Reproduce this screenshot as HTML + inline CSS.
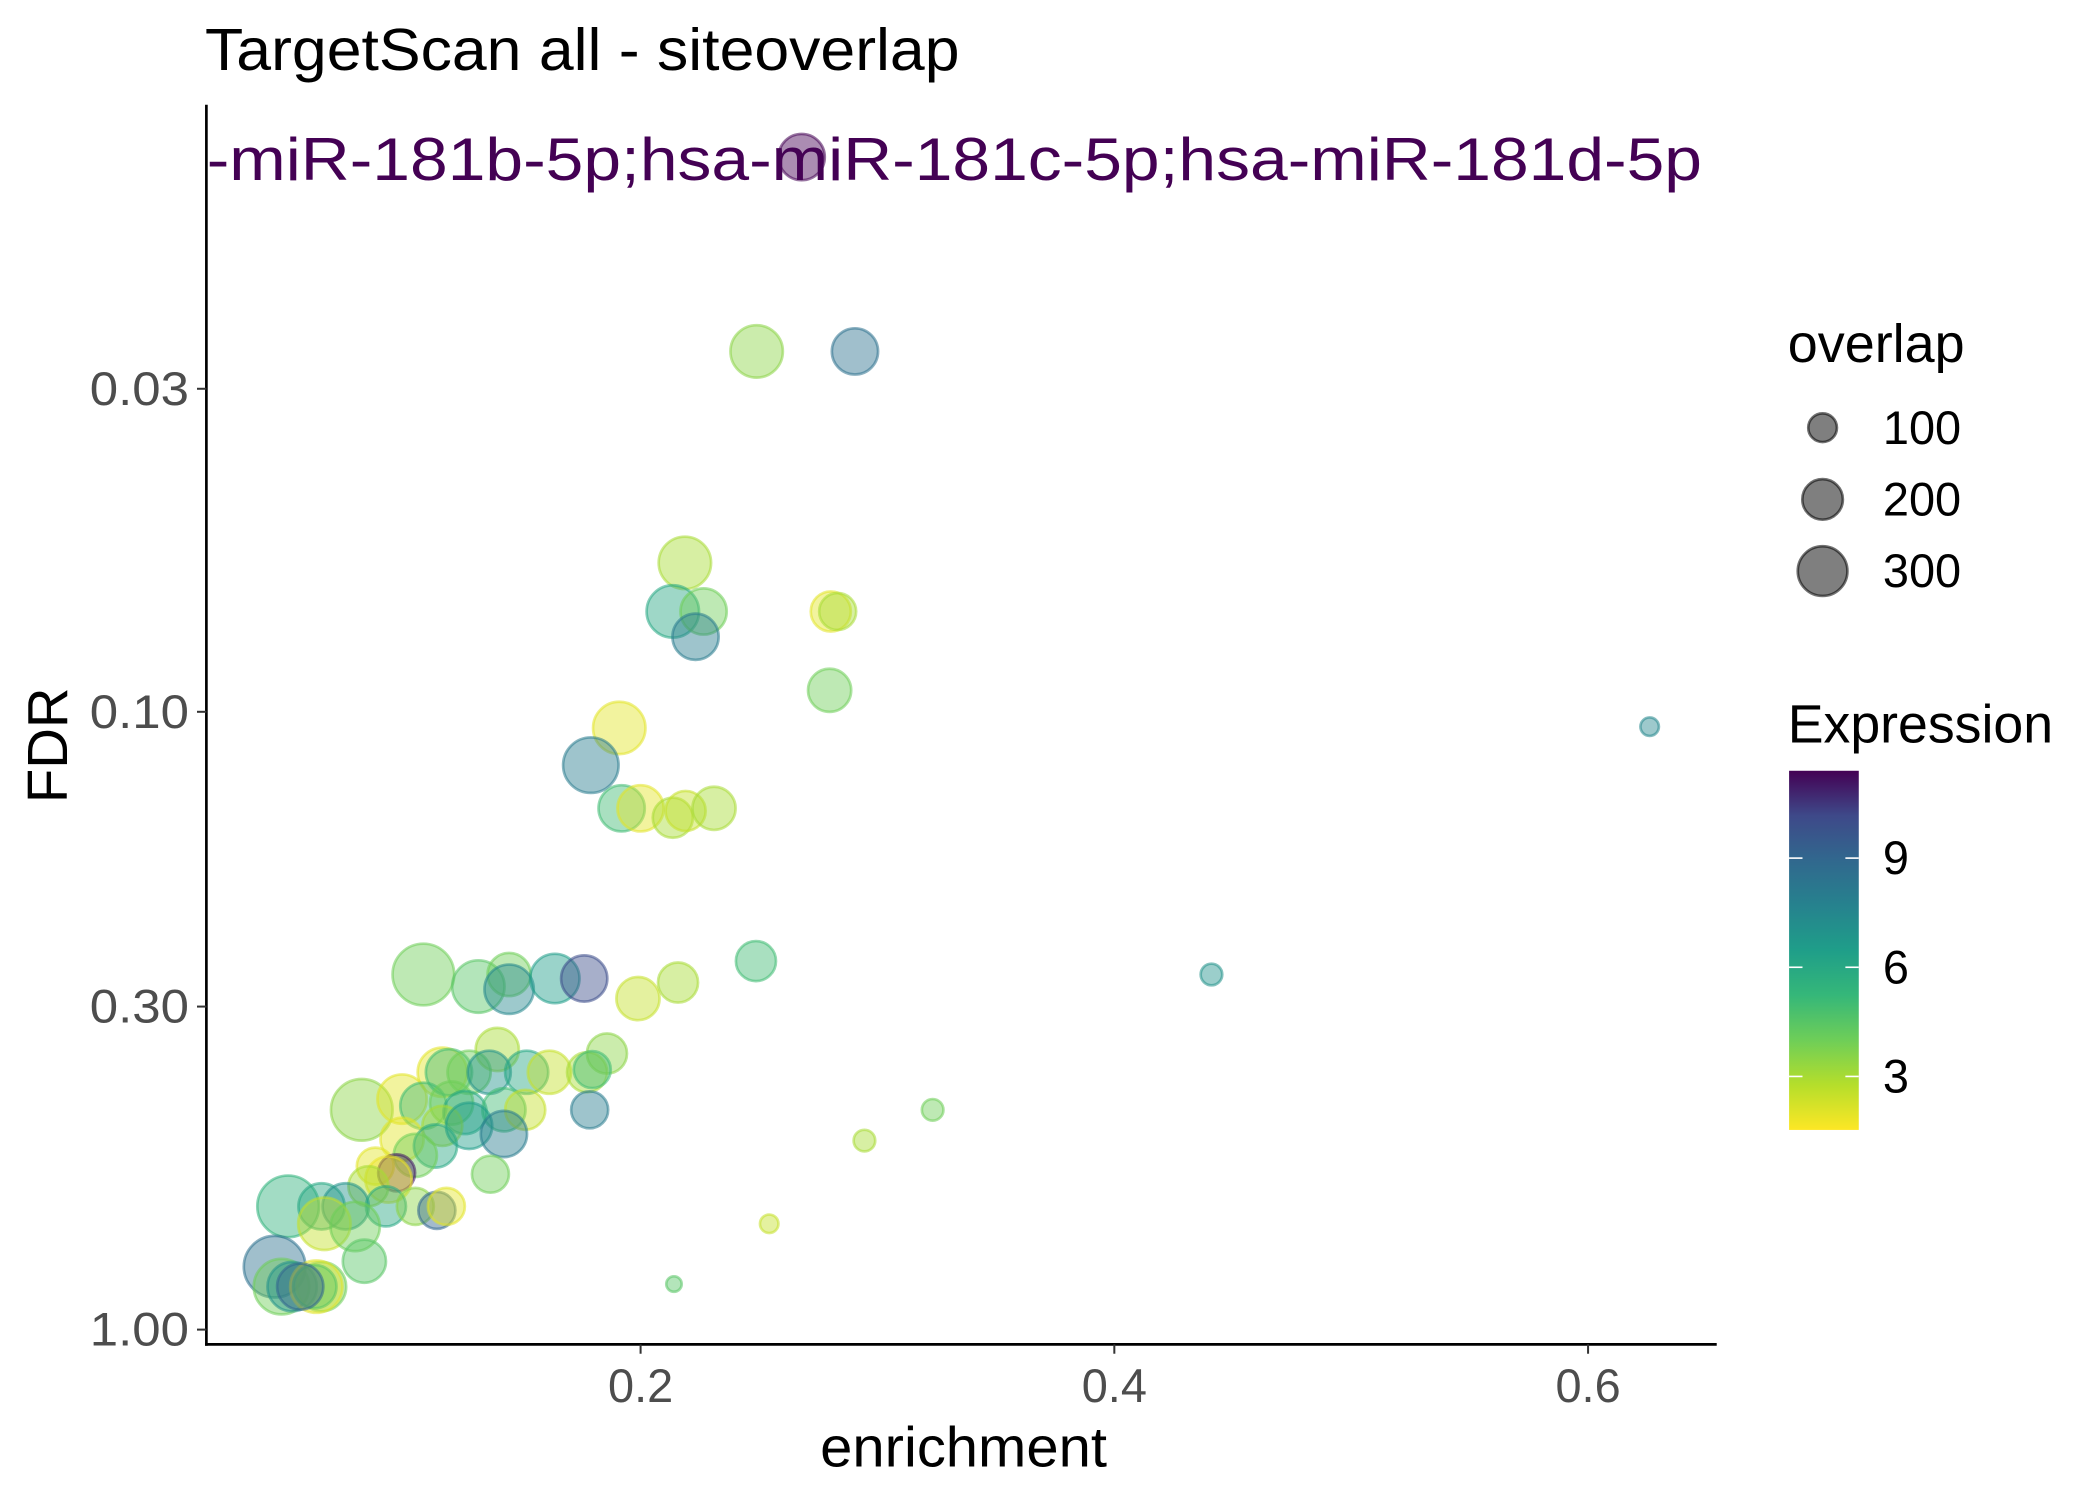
<!DOCTYPE html>
<html><head><meta charset="utf-8"><style>
html,body{margin:0;padding:0;background:#fff;}
svg{display:block;font-family:"Liberation Sans",Arial,sans-serif;}
</style></head><body>
<svg id="chart" width="2100" height="1500" viewBox="0 0 1567 1119" xmlns="http://www.w3.org/2000/svg">
<defs>
<clipPath id="plotclip"><rect x="155" y="78" width="1126" height="924"/></clipPath>
<linearGradient id="viridis" x1="0" y1="1" x2="0" y2="0">
<stop offset="0" stop-color="#fde725"/><stop offset="0.125" stop-color="#b5de2b"/>
<stop offset="0.25" stop-color="#6ece58"/><stop offset="0.375" stop-color="#35b779"/>
<stop offset="0.5" stop-color="#1f9e89"/><stop offset="0.625" stop-color="#26828e"/>
<stop offset="0.75" stop-color="#31688e"/><stop offset="0.875" stop-color="#3e4989"/>
<stop offset="1" stop-color="#440154"/>
</linearGradient>
</defs>
<text x="153" y="52" font-size="44" fill="#000" textLength="563" lengthAdjust="spacingAndGlyphs">TargetScan all - siteoverlap</text>
<g id="points" clip-path="url(#plotclip)"></g>
<g id="axes"></g>
<text x="719" y="1094" font-size="42" text-anchor="middle" textLength="214" lengthAdjust="spacingAndGlyphs">enrichment</text>
<text transform="translate(50,556) rotate(-90)" font-size="42" text-anchor="middle">FDR</text>
<g>
<text x="1334" y="270" font-size="40" textLength="132" lengthAdjust="spacingAndGlyphs">overlap</text>
<g id="sizekeys"></g>
</g>
<g>
<text x="1334" y="554" font-size="40" textLength="198" lengthAdjust="spacingAndGlyphs">Expression</text>
<rect x="1335" y="575" width="52" height="268" fill="url(#viridis)"/>
<g id="cbticks"></g>
</g>
</svg>
<script>
const enrichment=[0.268,0.249,0.2905,0.2187,0.2136,0.2266,0.2232,0.2803,0.2832,0.2798,0.626,0.191,0.179,0.192,0.2,0.2136,0.219,0.231,0.2487,0.441,0.1083,0.1315,0.1445,0.1445,0.1638,0.1762,0.2158,0.1989,0.1395,0.1858,0.1163,0.1191,0.1276,0.1361,0.1519,0.1615,0.1774,0.1796,0.0823,0.0993,0.1083,0.1202,0.1259,0.1423,0.1513,0.1785,0.0993,0.1163,0.1276,0.1423,0.1134,0.1049,0.1366,0.088,0.097,0.0936,0.0851,0.0512,0.0653,0.0755,0.0925,0.1049,0.114,0.118,0.0665,0.0795,0.0834,0.0455,0.0484,0.0529,0.0653,0.0631,0.0625,0.3233,0.2945,0.2543,0.2141,0.0563];
const fdr=[0.01265,0.0261,0.0261,0.0574,0.0688,0.0688,0.0756,0.0688,0.0688,0.0923,0.1057,0.1062,0.122,0.1433,0.1433,0.1484,0.1447,0.1433,0.2532,0.2662,0.2662,0.2784,0.2662,0.2812,0.2702,0.2702,0.2743,0.2912,0.352,0.3573,0.3832,0.3832,0.3832,0.3832,0.3832,0.3832,0.3832,0.3794,0.4408,0.4235,0.4342,0.4299,0.4452,0.4408,0.4408,0.4408,0.492,0.468,0.468,0.4824,0.5045,0.5224,0.5603,0.5437,0.5576,0.5715,0.586,0.6317,0.6317,0.6317,0.6317,0.6317,0.6412,0.6317,0.6741,0.6808,0.775,0.791,0.852,0.852,0.852,0.852,0.852,0.4408,0.4944,0.6741,0.8438,0.852];
const overlap=[225,289,225,289,289,225,225,169,144,196,36,289,324,225,225,169,169,196,169,49,400,289,196,256,256,225,169,196,196,169,256,225,196,196,196,196,169,144,400,256,225,196,196,196,169,144,196,169,225,225,196,196,144,144,144,225,169,400,225,225,169,144,144,144,289,256,196,400,324,256,256,289,196,49,49,36,25,225];
const expression=[11.5,3.5,8.5,3,6,4,8,2,3,4,7.5,2,8,5,2,3,2.5,3,5,7,4,4.5,4,7.5,6.5,10,3,2.5,3,3.5,2,5,4,7,6,2.5,3,5,3.5,2,5,4,6,5,2.5,8,2,3,6.5,8,6,4,4,2,11,1.8,3,5.5,6,7,6,3.5,9,2,2.5,4,4.5,8.5,4,7,4,2,4.5,4,3,2.5,4.5,9];
const xTicks=[0.2,0.4,0.6];
const xTickLabels=["0.2","0.4","0.6"];
const yTicks=[0.03,0.1,0.3,1];
const yTickLabels=["0.03","0.10","0.30","1.00"];
const sizeKeys=[100,200,300];
const cbTicks=[3,6,9];
const labelText="hsa-miR-181a-5p;hsa-miR-181b-5p;hsa-miR-181c-5p;hsa-miR-181d-5p";

const NS="http://www.w3.org/2000/svg";
function xs(v){return 124.5+v*1767.5;}
function ys(v){return 992+461*Math.log10(v);}
function rs(v){return 1.15*Math.sqrt(v);}
const EMIN=1.53,EMAX=11.4;
function cbY(v){return 843-(v-EMIN)/(EMAX-EMIN)*268;}
const vir=["#fde725","#b5de2b","#6ece58","#35b779","#1f9e89","#26828e","#31688e","#3e4989","#440154"];
function hex(c){return [1,3,5].map(i=>parseInt(c.substr(i,2),16));}
function col(v){let t=Math.max(0,Math.min(1,(v-EMIN)/(EMAX-EMIN)))*8;let i=Math.min(7,Math.floor(t)),f=t-i;
 const a=hex(vir[i]),b=hex(vir[i+1]);return "rgb("+a.map((x,k)=>Math.round(x+(b[k]-x)*f)).join(",")+")";}
function mk(tag,attrs,parent){const e=document.createElementNS(NS,tag);for(const k in attrs)e.setAttribute(k,attrs[k]);parent.appendChild(e);return e;}

const pts=document.getElementById("points");
for(let i=0;i<enrichment.length;i++){
 const c=col(expression[i]);
 const el=mk("circle",{cx:xs(enrichment[i]),cy:ys(fdr[i]),r:rs(overlap[i]),fill:c,"fill-opacity":0.45,stroke:c,"stroke-opacity":0.55,"stroke-width":2},pts);
 
 
}
const lbl=mk("text",{x:1270,y:134,"font-size":45,fill:"#440154","text-anchor":"end",textLength:1602,lengthAdjust:"spacingAndGlyphs"},pts);
lbl.textContent=labelText;



const ax=document.getElementById("axes");
const yl=mk("line",{x1:154,y1:78,x2:154,y2:1004,stroke:"#000","stroke-width":2},ax);


const xl=mk("line",{x1:153,y1:1003,x2:1281,y2:1003,stroke:"#000","stroke-width":2},ax);


xTicks.forEach((v,i)=>{
 const t=mk("line",{x1:xs(v),y1:1003,x2:xs(v),y2:1010,stroke:"#333","stroke-width":1.5},ax);
 
 
 const tx=mk("text",{x:xs(v),y:1046,"font-size":35,fill:"#4d4d4d","text-anchor":"middle"},ax);
 tx.textContent=xTickLabels[i];
 
 
});
yTicks.forEach((v,i)=>{
 const t=mk("line",{x1:147,y1:ys(v),x2:154,y2:ys(v),stroke:"#333","stroke-width":1.5},ax);
 
 
 const tx=mk("text",{x:141,y:ys(v)+12,"font-size":35,fill:"#4d4d4d","text-anchor":"end",textLength:74,lengthAdjust:"spacingAndGlyphs"},ax);
 tx.textContent=yTickLabels[i];
 
 
});
const sk=document.getElementById("sizekeys");
sizeKeys.forEach((v,i)=>{
 const cy=319+i*53.5;
 const c=mk("circle",{cx:1360,cy:cy,r:rs(v)*0.93,fill:"#000","fill-opacity":0.5,stroke:"#000","stroke-opacity":0.55,"stroke-width":2},sk);
 
 
 const t=mk("text",{x:1405,y:cy+12,"font-size":35},sk);
 t.textContent=String(v);
 
 
});
const cbt=document.getElementById("cbticks");
cbTicks.forEach(v=>{
 const y=cbY(v);
 const a=mk("line",{x1:1335,y1:y,x2:1345,y2:y,stroke:"#fff","stroke-width":1.2},cbt);
 
 
 const b=mk("line",{x1:1377,y1:y,x2:1387,y2:y,stroke:"#fff","stroke-width":1.2},cbt);
 
 
 const t=mk("text",{x:1405,y:y+12,"font-size":35},cbt);
 t.textContent=String(v);
 
 
});
</script>
</body></html>
